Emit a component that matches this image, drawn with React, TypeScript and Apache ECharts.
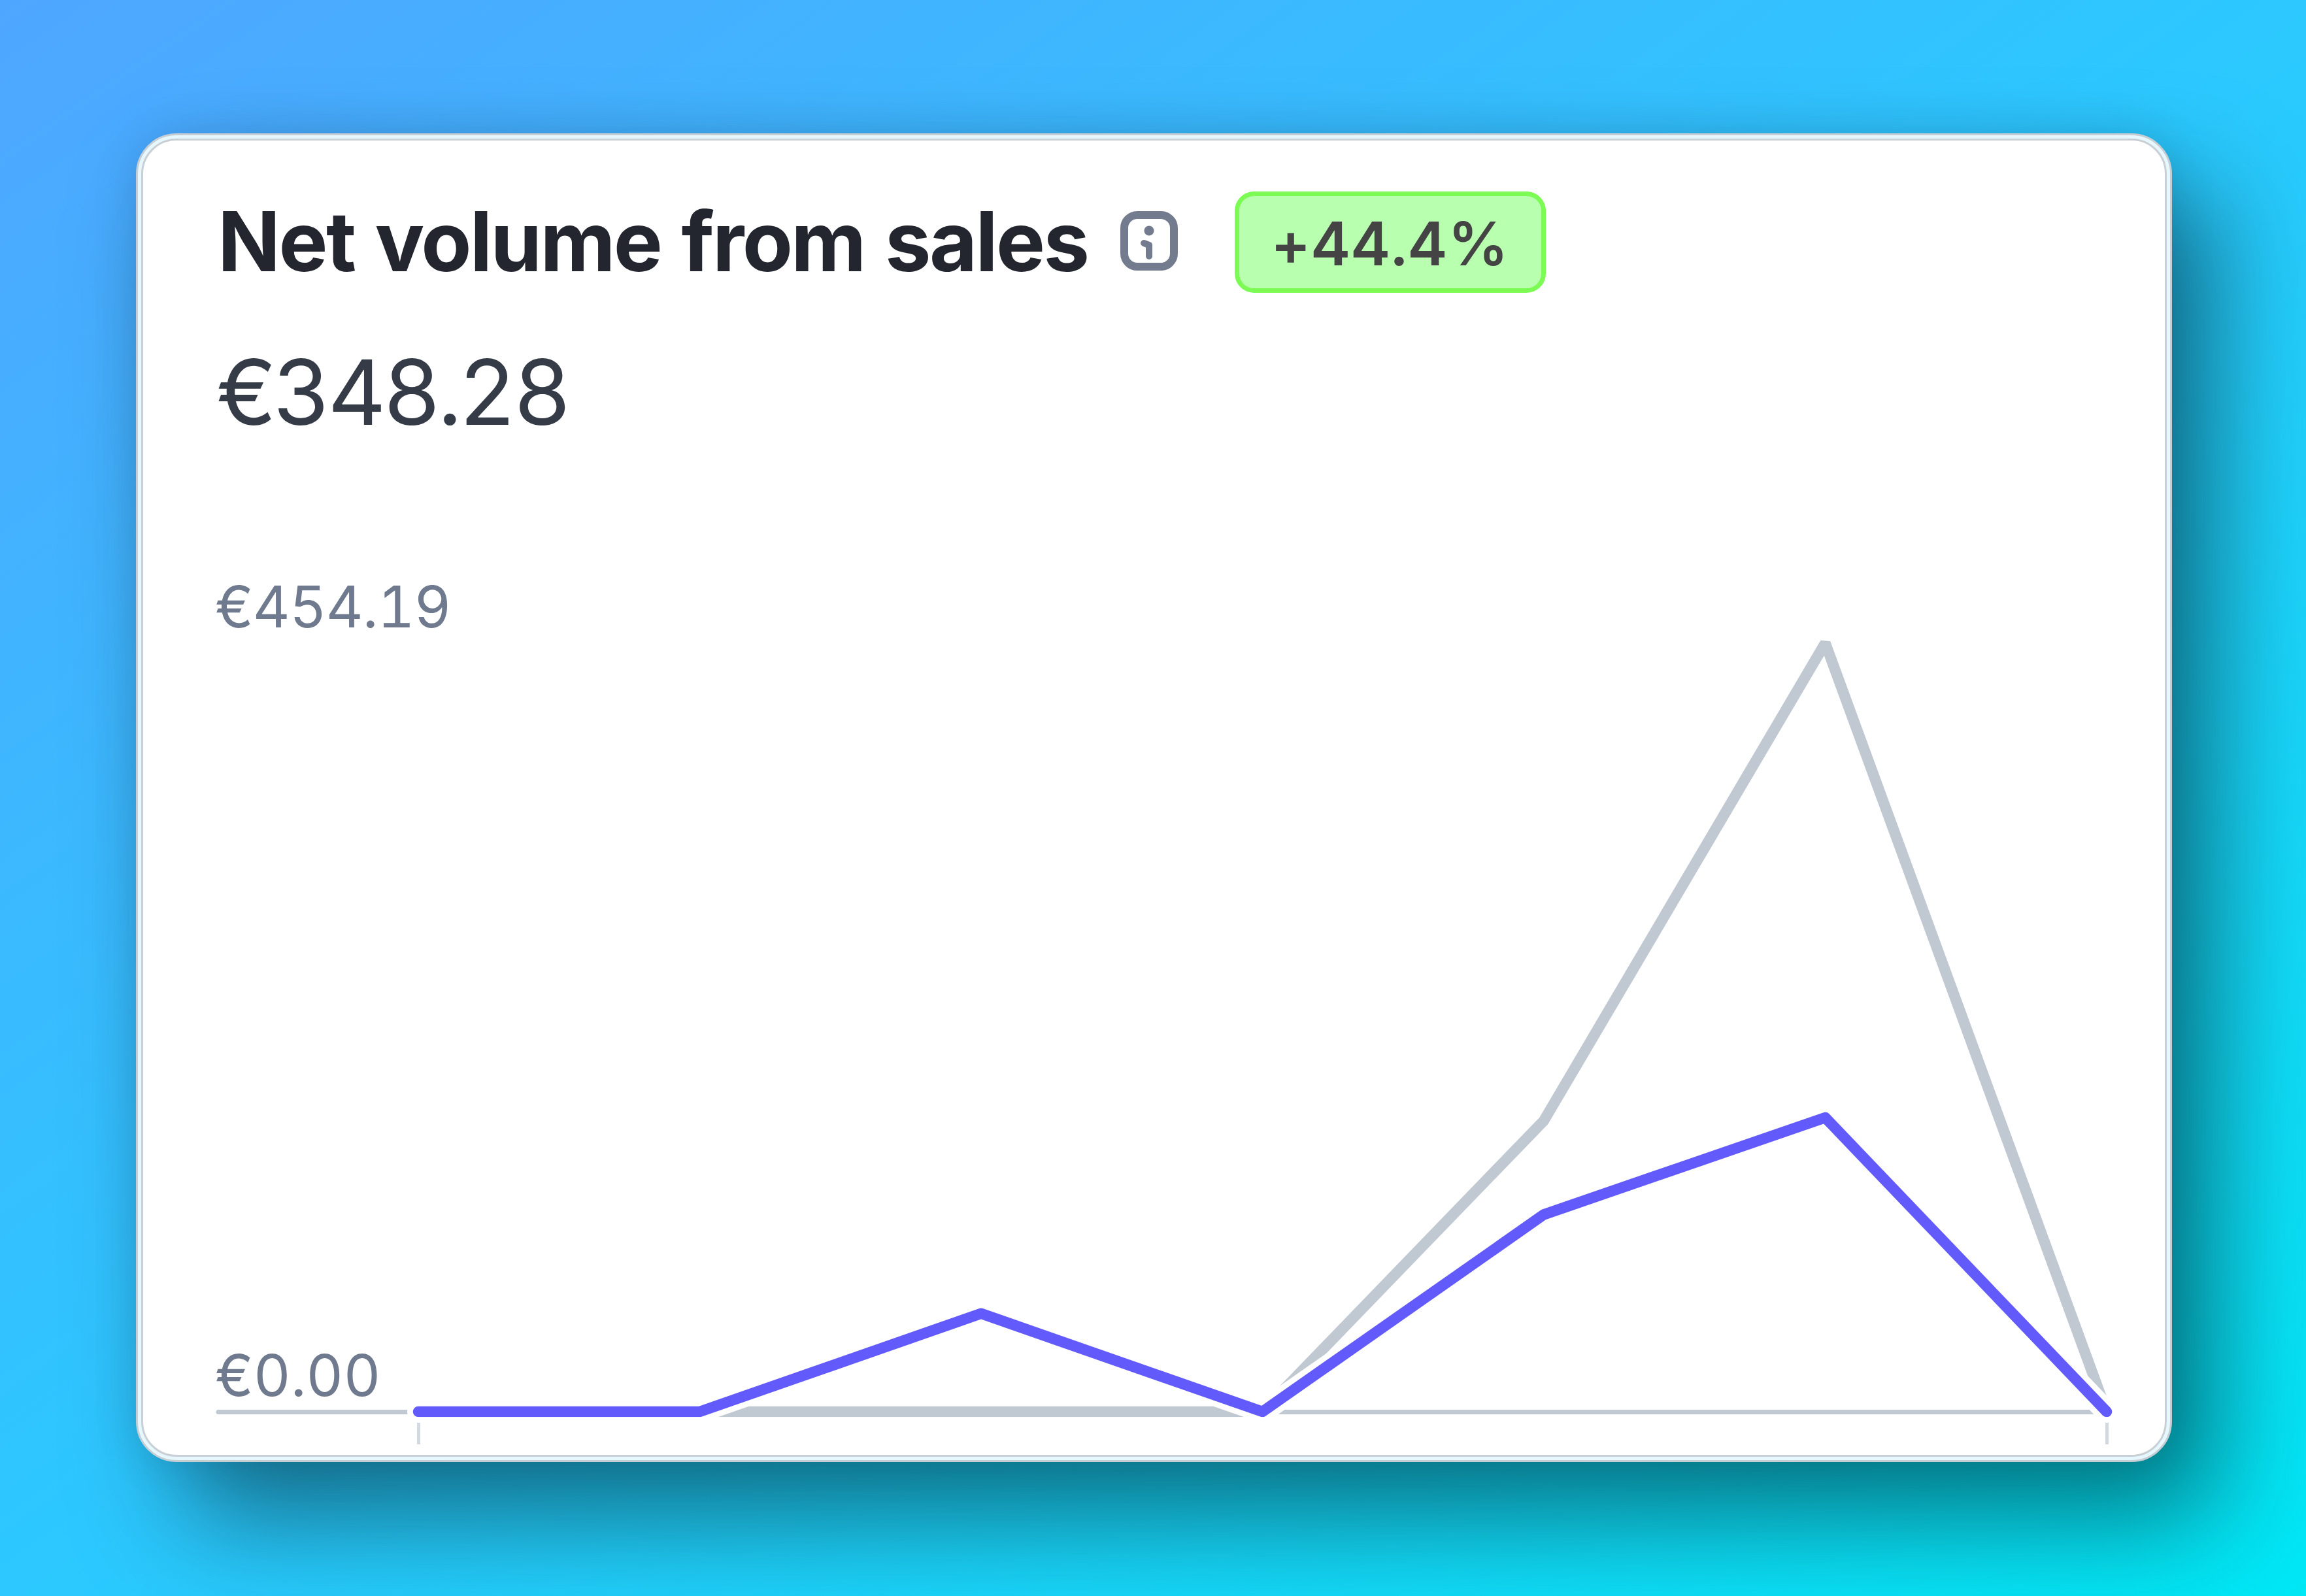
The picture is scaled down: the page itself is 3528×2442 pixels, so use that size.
import React, { useEffect, useRef } from "react";
import * as echarts from "echarts";

const categories = ["1", "2", "3", "4", "5", "6", "7"];
const currentValues = [0, 0, 58, 0, 116.5, 173.78, 0];
const previousValues = [0, 0, 0, 0, 172, 454.19, 0];
const yTicks = [0, 454.19];
const titleText = "Net volume from sales";
const totalText = "€348.28";
const changeText = "+44.4%";

const FONT = "Inter, 'Noto Sans', sans-serif";
const BLUE = "#625afa";
const GRAY = "#c0c8d2";

export default function App() {
  const ref = useRef<HTMLDivElement>(null);
  useEffect(() => {
    document.body.style.margin = "0";
    const chart = echarts.init(ref.current!, undefined, { renderer: "svg" });
    const top = 984;
    const bottom = 2442 - 2160;
    chart.setOption({
      animation: false,
      backgroundColor: "transparent",
      grid: [
        { left: 640, right: 3528 - 3223, top, bottom },
        { left: 334, right: 3528 - 3223, top, bottom },
      ],
      xAxis: [
        {
          type: "category",
          gridIndex: 0,
          data: categories,
          boundaryGap: false,
          offset: 15,
          axisLine: { show: false, onZero: false },
          axisLabel: { show: false },
          axisTick: {
            show: true,
            length: 35,
            alignWithLabel: true,
            interval: (i: number) => i === 0 || i === categories.length - 1,
            lineStyle: { color: "#d3d9e1", width: 5 },
          },
        },
        {
          type: "value",
          gridIndex: 1,
          min: 0,
          max: 1,
          axisLine: { show: true, onZero: false, lineStyle: { color: GRAY, width: 7 } },
          axisTick: { show: false },
          axisLabel: { show: false },
          splitLine: { show: false },
        },
      ],
      yAxis: [
        {
          type: "value",
          gridIndex: 0,
          min: 0,
          max: yTicks[1],
          axisLine: { show: false },
          axisTick: { show: false },
          splitLine: { show: false },
          axisLabel: {
            customValues: yTicks,
            formatter: (v: number) => "€" + v.toFixed(2),
            align: "left",
            verticalAlign: "bottom",
            lineHeight: 112,
            margin: 311,
            fontFamily: FONT,
            fontSize: 88,
            color: "#6f7a8e",
          },
        },
        {
          type: "value",
          gridIndex: 1,
          min: 0,
          max: 1,
          show: false,
        },
      ],
      series: [
        {
          type: "line",
          name: "Previous period",
          data: previousValues,
          showSymbol: false,
          lineStyle: { color: GRAY, width: 16.5, join: "bevel", cap: "round" },
          z: 3,
        },
        {
          type: "line",
          name: "halo",
          data: currentValues,
          showSymbol: false,
          lineStyle: { color: "#ffffff", width: 34, join: "round", cap: "round" },
          z: 4,
        },
        {
          type: "line",
          name: "Current period",
          data: currentValues,
          showSymbol: false,
          lineStyle: { color: BLUE, width: 16.5, join: "round", cap: "round" },
          z: 5,
        },
      ],
      graphic: [
        {
          type: "text",
          style: { x: 333, y: 369, text: titleText, fontFamily: FONT, fontSize: 126, fontWeight: 700, fill: "#23262e", verticalAlign: "middle" },
        },
        {
          type: "text",
          style: { x: 331, y: 599, text: totalText, fontFamily: FONT, fontSize: 138, fontWeight: 400, fill: "#363c47", verticalAlign: "middle" },
        },
        {
          type: "rect",
          shape: { x: 1720, y: 329, width: 76, height: 79, r: 20 },
          style: { fill: "none", stroke: "#737b8e", lineWidth: 12 },
        },
        { type: "circle", shape: { cx: 1758, cy: 353, r: 7.5 }, style: { fill: "#737b8e" } },
        {
          type: "polyline",
          shape: { points: [[1750, 372], [1758, 375], [1758, 392]] },
          style: { fill: "none", stroke: "#737b8e", lineWidth: 10, lineCap: "round", lineJoin: "round" },
        },
        {
          type: "rect",
          shape: { x: 1892.5, y: 296.5, width: 469, height: 148, r: 26 },
          style: { fill: "#b8ffb0", stroke: "#7dfb55", lineWidth: 7 },
        },
        {
          type: "text",
          style: { x: 2127, y: 372, text: changeText, fontFamily: FONT, fontSize: 92, fontWeight: 600, fill: "#444444", align: "center", verticalAlign: "middle" },
        },
      ],
    });
    // The reference sets its figures in tabular digits and tightens the large texts.
    const spacing: Record<string, string> = {
      [titleText]: "-2.6px",
      [totalText]: "-5.5px",
      [changeText]: "1.5px",
      "€454.19": "-1px",
    };
    ref.current!.querySelectorAll("text").forEach((t) => {
      const el = t as unknown as SVGTextElement;
      el.style.fontFeatureSettings = '"tnum"';
      const s = spacing[el.textContent || ""];
      if (s) el.style.letterSpacing = s;
    });
    return () => chart.dispose();
  }, []);

  return (
    <div
      style={{
        position: "fixed",
        left: 0,
        top: 0,
        width: 3528,
        height: 2442,
        overflow: "hidden",
        background: "linear-gradient(to bottom right, #4fa6ff 0%, #2cc8ff 50%, #00e8f5 100%)",
      }}
    >
      <div
        style={{
          position: "absolute",
          left: 208,
          top: 204,
          width: 3115,
          height: 2033,
          boxSizing: "border-box",
          background: "#e6f7fd",
          border: "3.5px solid #c6ced4",
          borderRadius: 62,
          boxShadow: "70px 90px 160px rgba(0,25,30,0.5), 0 0 70px rgba(0,20,40,0.12)",
        }}
      >
        <div
          style={{
            position: "absolute",
            left: 5,
            top: 5,
            right: 5,
            bottom: 5,
            boxSizing: "border-box",
            background: "#ffffff",
            border: "3px solid #c8d0d5",
            borderRadius: 54,
          }}
        />
      </div>
      <div ref={ref} style={{ position: "absolute", left: 0, top: 0, width: 3528, height: 2442 }} />
    </div>
  );
}
